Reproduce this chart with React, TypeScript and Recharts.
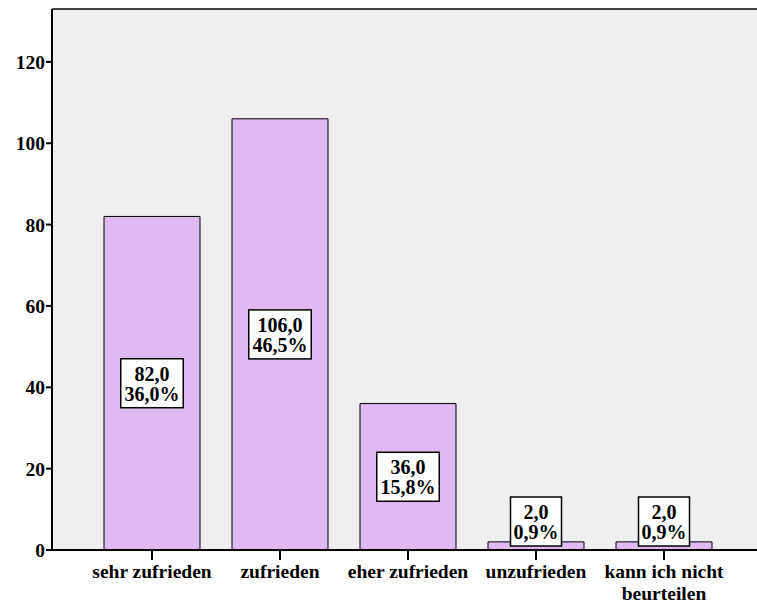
import React from "react";
import {
  BarChart,
  Bar,
  XAxis,
  YAxis,
  CartesianGrid,
  LabelList,
  ReferenceLine,
} from "recharts";

// Answer categories and counts
const categories = [
  "sehr zufrieden",
  "zufrieden",
  "eher zufrieden",
  "unzufrieden",
  "kann ich nicht beurteilen",
];
const counts = [82, 106, 36, 2, 2];
const percents = [36.0, 46.5, 15.8, 0.9, 0.9];
const yTicks = [0, 20, 40, 60, 80, 100, 120];

const data = categories.map((name, i) => ({
  name,
  count: counts[i],
  percent: percents[i],
}));

const FONT = "'Liberation Serif', 'DejaVu Serif', 'Times New Roman', serif";
const fmt = (v: number) => v.toFixed(1).replace(".", ",");

// wrap a label into lines of limited character count
const wrap = (s: string, max: number) => {
  const words = s.split(" ");
  const lines: string[] = [];
  let cur = "";
  for (const w of words) {
    const next = cur ? cur + " " + w : w;
    if (next.length > max && cur) {
      lines.push(cur);
      cur = w;
    } else cur = next;
  }
  if (cur) lines.push(cur);
  return lines;
};

const txtStyle = { fontFamily: FONT, fontWeight: "bold" as const };

const XTick = (props: any) => {
  const { x, y, payload } = props;
  const lines = wrap(String(payload.value), 15);
  return (
    <g>
      <line x1={x} x2={x} y1={y} y2={y + 10} stroke="#000" strokeWidth={2} />
      {lines.map((l, i) => (
        <text
          key={i}
          x={x}
          y={y + 28 + i * 22}
          textAnchor="middle"
          style={{ ...txtStyle, fontSize: 19.5 }}
          fill="#000"
        >
          {l}
        </text>
      ))}
    </g>
  );
};

const YTick = (props: any) => {
  const { x, y, payload } = props;
  return (
    <g>
      <line x1={x - 6} x2={x} y1={y} y2={y} stroke="#000" strokeWidth={2} />
      <text
        x={x - 7}
        y={y + 7}
        textAnchor="end"
        style={{ ...txtStyle, fontSize: 19.5 }}
        fill="#000"
      >
        {payload.value}
      </text>
    </g>
  );
};

// boxed value / percent label inside each bar
const ValueBox = (props: any) => {
  const { x, y, width, height, index } = props;
  const c = counts[index];
  const p = percents[index];
  const l1 = fmt(c);
  const l2 = fmt(p) + "%";
  const chars = Math.max(l1.length, l2.length);
  const bw = chars * 11.5 + 5;
  const bh = 49;
  const cx = x + width / 2;
  const bottom = y + height;
  const cy = Math.min(y + height / 2, bottom - 4 - bh / 2);
  const top = cy - bh / 2;
  return (
    <g>
      <rect
        x={cx - bw / 2}
        y={top}
        width={bw}
        height={bh}
        fill="#fff"
        stroke="#000"
        strokeWidth={1.5}
      />
      <text
        x={cx}
        y={top + 22}
        textAnchor="middle"
        style={{ ...txtStyle, fontSize: 20 }}
        fill="#000"
      >
        {l1}
      </text>
      <text
        x={cx}
        y={top + 42}
        textAnchor="middle"
        style={{ ...txtStyle, fontSize: 20 }}
        fill="#000"
      >
        {l2}
      </text>
    </g>
  );
};

export default function App() {
  return (
    <div
      style={{
        position: "absolute",
        left: 0,
        top: 0,
        width: 757,
        height: 605,
        background: "#fff",
        overflow: "hidden",
      }}
    >
      <BarChart
        width={757}
        height={605}
        data={data}
        margin={{ top: 9, right: 0, bottom: 0, left: 0 }}
      >
        <CartesianGrid horizontal={false} vertical={false} fill="#EFEFEF" />
        <XAxis
          dataKey="name"
          height={55}
          padding={{ left: 36, right: 29 }}
          axisLine={{ stroke: "#000", strokeWidth: 2 }}
          tickLine={false}
          tickSize={0}
          tickMargin={0}
          tick={<XTick />}
          interval={0}
        />
        <YAxis
          width={52}
          domain={[0, 133]}
          ticks={yTicks}
          allowDataOverflow
          axisLine={{ stroke: "#000", strokeWidth: 2 }}
          tickLine={false}
          tickSize={0}
          tickMargin={0}
          tick={<YTick />}
        />
        <ReferenceLine y={133} stroke="#444" strokeWidth={2} />
        <Bar
          dataKey="count"
          barSize={96}
          fill="#E0B9F3"
          stroke="#000"
          strokeWidth={1}
          isAnimationActive={false}
        >
          <LabelList dataKey="count" content={<ValueBox />} />
        </Bar>
      </BarChart>
    </div>
  );
}
